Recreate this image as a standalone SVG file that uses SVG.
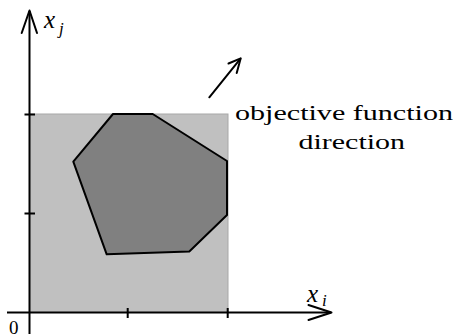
<svg xmlns="http://www.w3.org/2000/svg" width="457" height="334" viewBox="0 0 457 334">
<style>
.ax{stroke:#000;stroke-width:2;fill:none}
.ah{stroke:#000;stroke-width:2;fill:none;stroke-linecap:round;stroke-linejoin:round}
.t{font-family:"Liberation Serif","DejaVu Serif",serif;fill:#000}
.m{font-family:"Liberation Serif","DejaVu Serif",serif;font-style:italic;fill:#000}
</style>
<rect width="457" height="334" fill="#fff"/>
<g id="feasible-box">
<rect x="29.5" y="114" width="198.5" height="198.5" fill="#c0c0c0" stroke="#a8a8a8" stroke-width="1"/>
</g>
<g id="polytope">
<polygon points="113,114 152.7,114 227,161 227,215 189.3,251.5 106.7,254.3 73.3,161.7" fill="#808080" stroke="#000" stroke-width="2" stroke-linejoin="round"/>
</g>
<g id="connectors">
<line class="ax" x1="29.5" y1="334" x2="29.5" y2="11"/>
<polyline class="ah" points="21.7,33 29.5,10.5 37,33"/>
<line class="ax" x1="7" y1="312.5" x2="331" y2="312.5"/>
<polyline class="ah" points="308.5,305 331.5,312.5 308.5,320"/>
<line class="ax" x1="127.7" y1="308" x2="127.7" y2="318"/>
<line class="ax" x1="227.7" y1="308" x2="227.7" y2="318"/>
<line class="ax" x1="24.5" y1="114.5" x2="35" y2="114.5"/>
<line class="ax" x1="24.5" y1="213.5" x2="35" y2="213.5"/>
<line class="ah" x1="209.3" y1="97.3" x2="240.3" y2="58.8"/>
<polyline class="ah" points="228.5,63.5 240.7,58.3 236.7,73"/>
</g>
<g id="labels">
<text class="m" x="44" y="28" font-size="25">x</text>
<text class="m" x="59" y="34" font-size="17">j</text>
<text class="m" x="307" y="302" font-size="25">x</text>
<text class="m" x="322" y="306" font-size="17">i</text>
<text class="t" x="9" y="333.5" font-size="19">0</text>
<text class="t" x="235" y="120" font-size="22" textLength="218" lengthAdjust="spacingAndGlyphs">objective function</text>
<text class="t" x="298.5" y="148.5" font-size="22" textLength="106.5" lengthAdjust="spacingAndGlyphs">direction</text>
</g>
</svg>
